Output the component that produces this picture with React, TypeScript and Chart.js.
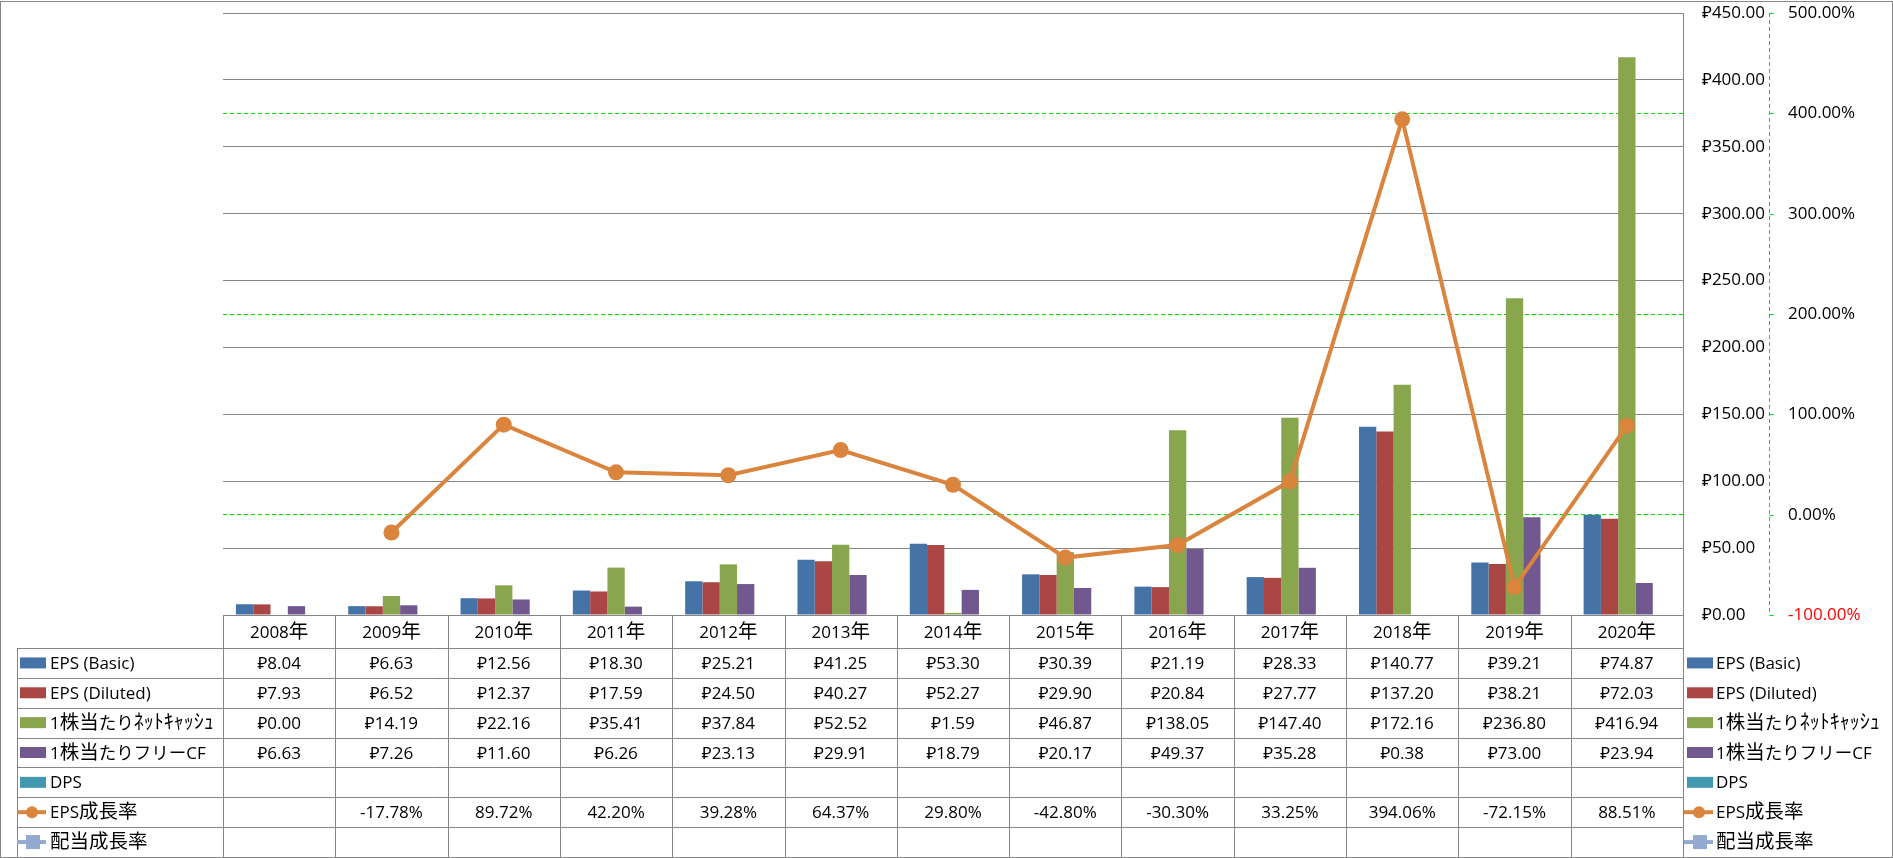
import React, { useEffect, useRef } from 'react';
import { Chart, registerables } from 'chart.js';

Chart.register(...registerables);

// ---------- data ----------
const years = ['2008年', '2009年', '2010年', '2011年', '2012年', '2013年', '2014年', '2015年', '2016年', '2017年', '2018年', '2019年', '2020年'];
const epsBasic = [8.04, 6.63, 12.56, 18.30, 25.21, 41.25, 53.30, 30.39, 21.19, 28.33, 140.77, 39.21, 74.87];
const epsDiluted = [7.93, 6.52, 12.37, 17.59, 24.50, 40.27, 52.27, 29.90, 20.84, 27.77, 137.20, 38.21, 72.03];
const netCashPerShare = [0.00, 14.19, 22.16, 35.41, 37.84, 52.52, 1.59, 46.87, 138.05, 147.40, 172.16, 236.80, 416.94];
const fcfPerShare = [6.63, 7.26, 11.60, 6.26, 23.13, 29.91, 18.79, 20.17, 49.37, 35.28, 0.38, 73.00, 23.94];
const dps: (number | null)[] = [null, null, null, null, null, null, null, null, null, null, null, null, null];
const epsGrowth: (number | null)[] = [null, -17.78, 89.72, 42.20, 39.28, 64.37, 29.80, -42.80, -30.30, 33.25, 394.06, -72.15, 88.51];
const divGrowth: (number | null)[] = [null, null, null, null, null, null, null, null, null, null, null, null, null];

const seriesNames = ['EPS (Basic)', 'EPS (Diluted)', '1株当たりﾈｯﾄｷｬｯｼｭ', '1株当たりフリーCF', 'DPS', 'EPS成長率', '配当成長率'];
const seriesColors = ['#4572A7', '#AA4643', '#89A54E', '#71588F', '#4198AF', '#DB843D', '#93A9CF'];

const yenMin = 0;
const yenMax = 450;
const yenStep = 50;
const pctMin = -100;
const pctMax = 500;
const pctStep = 100;
const pctGridEvery = 200;

// ---------- styling ----------
const W = 1893;
const H = 858;
const GRAY = '#868686';
const GREEN = '#00E000';
const LATIN = "'Open Sans', 'Noto Sans', 'DejaVu Sans', sans-serif";
const CJK = "'Noto Sans CJK JP', 'Noto Sans CJK SC', sans-serif";

function fontFor(ch: string): string {
  const c = ch.codePointAt(0) || 0;
  if (c >= 0x4e00 && c <= 0x9fff) return `19.5px ${CJK}`;
  if (c >= 0xff61 && c <= 0xff9f) return `20px ${CJK}`;
  if (c >= 0x3040 && c <= 0x30ff) return `17.5px ${CJK}`;
  return `17px ${LATIN}`;
}

function runsOf(text: string) {
  const runs: { t: string; f: string }[] = [];
  for (const ch of Array.from(text)) {
    const f = fontFor(ch);
    if (runs.length && runs[runs.length - 1].f === f) runs[runs.length - 1].t += ch;
    else runs.push({ t: ch, f });
  }
  return runs;
}

function drawMixed(ctx: CanvasRenderingContext2D, text: string, x: number, cy: number, align: 'left' | 'center', color = '#000') {
  const runs = runsOf(text);
  let total = 0;
  const widths: number[] = [];
  for (const r of runs) {
    ctx.font = r.f;
    const w = ctx.measureText(r.t).width;
    widths.push(w);
    total += w;
  }
  let cx = align === 'center' ? x - total / 2 : x;
  ctx.fillStyle = color;
  ctx.textAlign = 'left';
  ctx.textBaseline = 'alphabetic';
  runs.forEach((r, i) => {
    ctx.font = r.f;
    ctx.fillText(r.t, cx, cy + 6);
    cx += widths[i];
  });
}

const yen = (v: number | null) => (v === null || v === undefined ? '' : '₽' + v.toFixed(2));
const pct = (v: number | null) => (v === null || v === undefined ? '' : v.toFixed(2) + '%');

const tableRows = [
  { name: seriesNames[0], color: seriesColors[0], kind: 'bar', values: epsBasic as (number | null)[], fmt: yen },
  { name: seriesNames[1], color: seriesColors[1], kind: 'bar', values: epsDiluted as (number | null)[], fmt: yen },
  { name: seriesNames[2], color: seriesColors[2], kind: 'bar', values: netCashPerShare as (number | null)[], fmt: yen },
  { name: seriesNames[3], color: seriesColors[3], kind: 'bar', values: fcfPerShare as (number | null)[], fmt: yen },
  { name: seriesNames[4], color: seriesColors[4], kind: 'bar', values: dps, fmt: yen },
  { name: seriesNames[5], color: seriesColors[5], kind: 'lineCircle', values: epsGrowth, fmt: pct },
  { name: seriesNames[6], color: seriesColors[6], kind: 'lineSquare', values: divGrowth, fmt: pct },
];

function drawKey(ctx: CanvasRenderingContext2D, kind: string, color: string, x: number, cy: number) {
  ctx.save();
  if (kind === 'bar') {
    ctx.fillStyle = color;
    ctx.fillRect(x, cy - 5.5, 26, 11);
  } else {
    ctx.strokeStyle = color;
    ctx.lineWidth = 4;
    ctx.beginPath();
    ctx.moveTo(x - 3, cy);
    ctx.lineTo(x + 26, cy);
    ctx.stroke();
    ctx.fillStyle = color;
    if (kind === 'lineCircle') {
      ctx.beginPath();
      ctx.arc(x + 12, cy, 6, 0, Math.PI * 2);
      ctx.fill();
    } else {
      ctx.fillRect(x + 6, cy - 7, 14, 14);
    }
  }
  ctx.restore();
}

const excelPlugin = {
  id: 'excelTable',
  afterDraw(chart: any) {
    const { ctx, chartArea, scales } = chart;
    const xs = scales.x;
    const n = years.length;
    const left = chartArea.left;
    const right = chartArea.right;
    const colW = (right - left) / n;
    const top = chartArea.bottom;
    const headerBottom = top + 33;
    const bottom = H - 1;
    const rowH = (bottom - headerBottom) / tableRows.length;
    const legendColX = 17;

    ctx.save();
    // green dashed secondary axis line with small ticks
    const y1 = scales.y1;
    const ax = Math.round(y1.left) + 0.5;
    ctx.strokeStyle = GREEN;
    ctx.lineWidth = 1;
    ctx.setLineDash([4, 3]);
    ctx.beginPath();
    ctx.moveTo(ax, chartArea.top);
    ctx.lineTo(ax, chartArea.bottom);
    ctx.stroke();
    ctx.setLineDash([]);
    ctx.beginPath();
    for (const t of y1.ticks) {
      const ty = Math.round(y1.getPixelForValue(t.value)) + 0.5;
      ctx.moveTo(ax, ty);
      ctx.lineTo(ax + 4, ty);
    }
    ctx.stroke();

    // table lines
    ctx.strokeStyle = GRAY;
    ctx.lineWidth = 1;
    ctx.beginPath();
    for (let k = 0; k < tableRows.length; k++) {
      const y = Math.round(headerBottom + k * rowH) + 0.5;
      ctx.moveTo(legendColX, y);
      ctx.lineTo(right, y);
    }
    ctx.moveTo(legendColX + 0.5, headerBottom);
    ctx.lineTo(legendColX + 0.5, bottom);
    for (let i = 0; i <= n; i++) {
      const x = Math.round(left + i * colW) + 0.5;
      ctx.moveTo(x, top);
      ctx.lineTo(x, bottom);
    }
    ctx.stroke();

    // outer border
    ctx.strokeRect(0.5, 1.5, W - 1, H - 2);

    // header labels
    for (let i = 0; i < n; i++) {
      const cx = xs.getPixelForValue(i);
      drawMixed(ctx, years[i], cx, (top + headerBottom) / 2, 'center');
    }

    // rows
    tableRows.forEach((row, k) => {
      const cy = headerBottom + (k + 0.5) * rowH;
      drawKey(ctx, row.kind, row.color, 20, cy);
      drawMixed(ctx, row.name, 50, cy, 'left');
      for (let i = 0; i < n; i++) {
        const txt = row.fmt(row.values[i]);
        if (txt) drawMixed(ctx, txt, xs.getPixelForValue(i), cy, 'center');
      }
      // right legend
      drawKey(ctx, row.kind, row.color, right + 4, cy);
      drawMixed(ctx, row.name, right + 33, cy, 'left');
    });
    ctx.restore();
  },
};

export default function App() {
  const ref = useRef<HTMLCanvasElement | null>(null);

  useEffect(() => {
    if (!ref.current) return;
    const barDs = (i: number, data: (number | null)[]) => ({
      type: 'bar' as const,
      label: seriesNames[i],
      data,
      backgroundColor: seriesColors[i],
      borderWidth: 0,
      yAxisID: 'y',
      order: 1,
      categoryPercentage: 0.77,
      barPercentage: 1,
    });
    const chart = new Chart(ref.current, {
      type: 'bar',
      data: {
        labels: years,
        datasets: [
          barDs(0, epsBasic),
          barDs(1, epsDiluted),
          barDs(2, netCashPerShare),
          barDs(3, fcfPerShare),
          barDs(4, dps),
          {
            type: 'line',
            label: seriesNames[5],
            data: epsGrowth,
            borderColor: seriesColors[5],
            backgroundColor: seriesColors[5],
            borderWidth: 4,
            pointRadius: 8,
            pointBorderWidth: 0,
            pointBackgroundColor: seriesColors[5],
            tension: 0,
            yAxisID: 'y1',
            order: 0,
          } as any,
          {
            type: 'line',
            label: seriesNames[6],
            data: divGrowth,
            borderColor: seriesColors[6],
            backgroundColor: seriesColors[6],
            borderWidth: 4,
            pointRadius: 7,
            pointStyle: 'rect',
            yAxisID: 'y1',
            order: 0,
          } as any,
        ],
      },
      options: {
        responsive: false,
        animation: false,
        devicePixelRatio: 1,
        layout: { padding: { left: 223, top: 13, right: 24, bottom: 243 } },
        plugins: { legend: { display: false }, tooltip: { enabled: false } },
        scales: {
          x: { type: 'category', display: false, offset: true, grid: { display: false } },
          y: {
            position: 'right',
            weight: 0,
            min: yenMin,
            max: yenMax,
            ticks: {
              stepSize: yenStep,
              padding: 0,
              color: '#000',
              font: { family: LATIN, size: 17 },
              callback: (v: any) => '₽' + Number(v).toFixed(2),
            },
            grid: { color: GRAY, lineWidth: 1, drawTicks: true, tickLength: 19, tickColor: 'rgba(0,0,0,0)' },
            border: { display: true, color: GRAY, width: 1 },
            afterFit: (s: any) => { s.width = 86; },
          },
          y1: {
            position: 'right',
            weight: 1,
            min: pctMin,
            max: pctMax,
            ticks: {
              stepSize: pctStep,
              padding: 0,
              color: (c: any) => (c.tick && c.tick.value < 0 ? '#FF0000' : '#000'),
              font: { family: LATIN, size: 17 },
              callback: (v: any) => Number(v).toFixed(2) + '%',
            },
            grid: {
              color: (c: any) => (c.tick && c.tick.value % pctGridEvery === 0 ? GREEN : 'rgba(0,0,0,0)'),
              lineWidth: 1,
              drawTicks: true,
              tickLength: 19,
              tickColor: 'rgba(0,0,0,0)',
            },
            border: { display: false, dash: [4, 3] },
            afterFit: (s: any) => { s.width = 100; },
          },
        },
      } as any,
      plugins: [excelPlugin],
    });
    return () => chart.destroy();
  }, []);

  return (
    <div style={{ position: 'absolute', left: 0, top: 0, width: W, height: H, background: '#fff' }}>
      <canvas ref={ref} width={W} height={H} style={{ display: 'block', width: W, height: H }} />
    </div>
  );
}
